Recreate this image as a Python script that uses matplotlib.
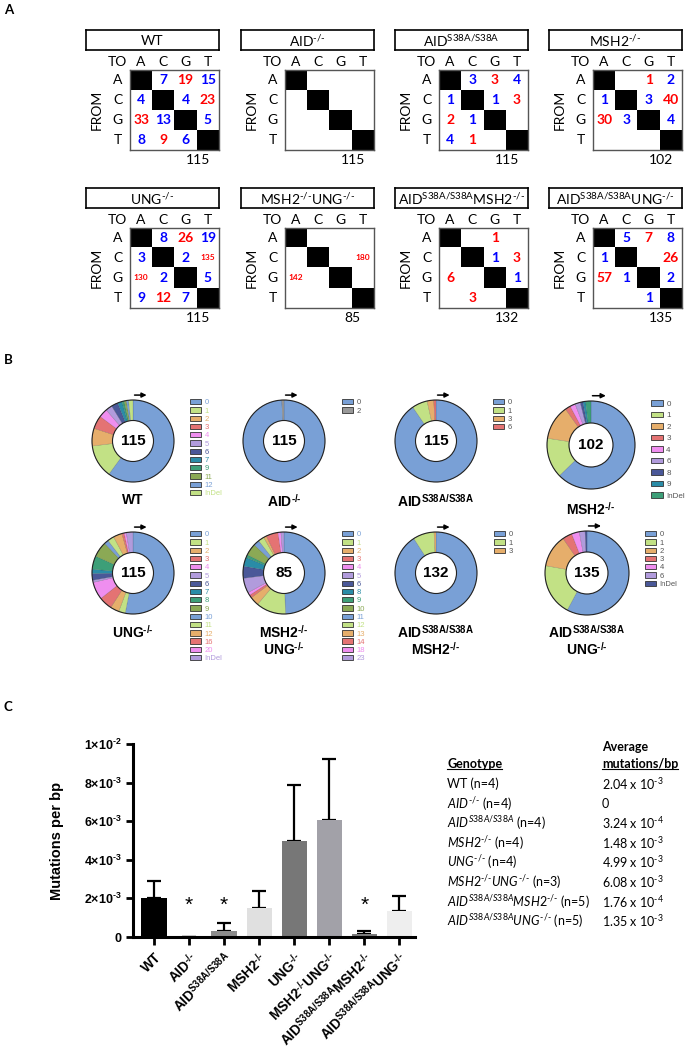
import numpy as np
import matplotlib
matplotlib.use('Agg')
import matplotlib.pyplot as plt
from matplotlib.patches import Patch, Circle

plt.rcParams['font.family'] = ['Lato', 'DejaVu Sans']
plt.rcParams['mathtext.fontset'] = 'custom'
plt.rcParams['mathtext.rm'] = 'Lato'
plt.rcParams['mathtext.it'] = 'Lato:italic'
plt.rcParams['mathtext.bf'] = 'Liberation Sans:bold'

W, H = 686, 1050
HY = '\u2010'  # short hyphen, avoids the wide mathtext minus
KO = HY + '/' + HY

# ---------------- Panel A: substitution matrices (row = FROM, col = TO, 0 = blank)
bases = ['A', 'C', 'G', 'T']
matrix_titles = ['WT', 'AID$^{' + KO + '}$', 'AID$^{\\mathrm{S38A/S38A}}$', 'MSH2$^{' + KO + '}$',
                 'UNG$^{' + KO + '}$', 'MSH2$^{' + KO + '}$UNG$^{' + KO + '}$',
                 'AID$^{\\mathrm{S38A/S38A}}$MSH2$^{' + KO + '}$', 'AID$^{\\mathrm{S38A/S38A}}$UNG$^{' + KO + '}$']
m_wt = [[0, 7, 19, 15], [4, 0, 4, 23], [33, 13, 0, 5], [8, 9, 6, 0]]
m_aid = [[0, 0, 0, 0], [0, 0, 0, 0], [0, 0, 0, 0], [0, 0, 0, 0]]
m_s38a = [[0, 3, 3, 4], [1, 0, 1, 3], [2, 1, 0, 0], [4, 1, 0, 0]]
m_msh2 = [[0, 0, 1, 2], [1, 0, 3, 40], [30, 3, 0, 4], [0, 0, 0, 0]]
m_ung = [[0, 8, 26, 19], [3, 0, 2, 135], [130, 2, 0, 5], [9, 12, 7, 0]]
m_msh2ung = [[0, 0, 0, 0], [0, 0, 0, 180], [142, 0, 0, 0], [0, 0, 0, 0]]
m_s38a_msh2 = [[0, 0, 1, 0], [0, 0, 1, 3], [6, 0, 0, 1], [0, 3, 0, 0]]
m_s38a_ung = [[0, 5, 7, 8], [1, 0, 0, 26], [57, 1, 0, 2], [0, 0, 1, 0]]
matrices = [m_wt, m_aid, m_s38a, m_msh2, m_ung, m_msh2ung, m_s38a_msh2, m_s38a_ung]
matrix_totals = [115, 115, 115, 102, 115, 85, 132, 135]

# ---------------- Panel B: clones by number of mutations
BKO = '\\mathbf{' + KO + '}'
BS38 = '\\mathbf{S38A/S38A}'
pie_titles = [['WT'], ['AID$^{' + BKO + '}$'], ['AID$^{' + BS38 + '}$'], ['MSH2$^{' + BKO + '}$'],
              ['UNG$^{' + BKO + '}$'], ['MSH2$^{' + BKO + '}$', 'UNG$^{' + BKO + '}$'],
              ['AID$^{' + BS38 + '}$', 'MSH2$^{' + BKO + '}$'],
              ['AID$^{' + BS38 + '}$', 'UNG$^{' + BKO + '}$']]
lab_wt = ['0', '1', '2', '3', '4', '5', '6', '7', '9', '11', '12', 'InDel']
cnt_wt = [69, 15, 8, 6, 4, 3, 3, 2, 1, 1, 1, 2]
lab_aid = ['0', '2']
cnt_aid = [114, 1]
lab_s38a = ['0', '1', '3', '6']
cnt_s38a = [104, 7, 3, 1]
lab_msh2 = ['0', '1', '2', '3', '4', '6', '8', '9', 'InDel']
cnt_msh2 = [64, 15, 13, 2, 2, 2, 1, 1, 2]
lab_ung = ['0', '1', '2', '3', '4', '5', '6', '7', '8', '9', '10', '11', '12', '16', '20', 'InDel']
cnt_ung = [61, 3, 4, 6, 8, 1, 3, 2, 6, 7, 2, 3, 4, 1, 1, 3]
lab_msh2ung = ['0', '1', '2', '3', '4', '5', '6', '8', '9', '10', '11', '12', '13', '14', '18', '23']
cnt_msh2ung = [42, 10, 3, 1, 1, 5, 4, 3, 1, 4, 2, 2, 1, 4, 1, 1]
lab_s38a_msh2 = ['0', '1', '3']
cnt_s38a_msh2 = [120, 11, 1]
lab_s38a_ung = ['0', '1', '2', '3', '4', '6', 'InDel']
cnt_s38a_ung = [78, 27, 17, 5, 4, 3, 1]
pie_labels = [lab_wt, lab_aid, lab_s38a, lab_msh2, lab_ung, lab_msh2ung, lab_s38a_msh2, lab_s38a_ung]
pie_counts = [cnt_wt, cnt_aid, cnt_s38a, cnt_msh2, cnt_ung, cnt_msh2ung, cnt_s38a_msh2, cnt_s38a_ung]

# ---------------- Panel C: mutation frequency
bar_labels = ['WT', 'AID$^{' + BKO + '}$', 'AID$^{' + BS38 + '}$', 'MSH2$^{' + BKO + '}$',
              'UNG$^{' + BKO + '}$', 'MSH2$^{' + BKO + '}$UNG$^{' + BKO + '}$',
              'AID$^{' + BS38 + '}$MSH2$^{' + BKO + '}$', 'AID$^{' + BS38 + '}$UNG$^{' + BKO + '}$']
bar_means = [2.04e-3, 0, 3.24e-4, 1.48e-3, 4.99e-3, 6.08e-3, 1.76e-4, 1.35e-3]
bar_err = [0.86e-3, 0, 0.38e-3, 0.88e-3, 2.86e-3, 3.14e-3, 0.12e-3, 0.77e-3]
significant = [False, True, True, False, False, False, True, False]
ytick_labels = ['0', '2×10$^{\\mathbf{' + HY + '3}}$', '4×10$^{\\mathbf{' + HY + '3}}$',
                '6×10$^{\\mathbf{' + HY + '3}}$', '8×10$^{\\mathbf{' + HY + '3}}$',
                '1×10$^{\\mathbf{' + HY + '2}}$']

IKO = '\\mathit{' + KO + '}'
IS38 = '\\mathit{S38A/S38A}'
table_genotypes = ['WT (n=4)', '$\\mathit{AID}^{' + IKO + '}$ (n=4)',
                   '$\\mathit{AID}^{' + IS38 + '}$ (n=4)', '$\\mathit{MSH2}^{' + IKO + '}$ (n=4)',
                   '$\\mathit{UNG}^{' + IKO + '}$ (n=4)',
                   '$\\mathit{MSH2}^{' + IKO + '}\\mathit{UNG}^{' + IKO + '}$ (n=3)',
                   '$\\mathit{AID}^{' + IS38 + '}\\mathit{MSH2}^{' + IKO + '}$ (n=5)',
                   '$\\mathit{AID}^{' + IS38 + '}\\mathit{UNG}^{' + IKO + '}$ (n=5)']
table_values = ['2.04 x 10$^{' + HY + '3}$', '0', '3.24 x 10$^{' + HY + '4}$', '1.48 x 10$^{' + HY + '3}$',
                '4.99 x 10$^{' + HY + '3}$', '6.08 x 10$^{' + HY + '3}$', '1.76 x 10$^{' + HY + '4}$',
                '1.35 x 10$^{' + HY + '3}$']

fig = plt.figure(figsize=(6.86, 10.5), dpi=100)


def px_axes(x, y, w, h):
    return fig.add_axes([x / W, 1 - (y + h) / H, w / W, h / H])


ov = fig.add_axes([0, 0, 1, 1])
ov.set_xlim(0, W)
ov.set_ylim(H, 0)
ov.axis('off')

for letter, y in zip('ABC', [10, 360, 707]):
    ov.text(4, y, letter, fontsize=9.5, fontweight='bold', va='center')

# ---- Panel A
transitions = {('A', 'G'), ('G', 'A'), ('C', 'T'), ('T', 'C')}
col_x = [86, 241, 395, 549]
row_y = [30, 188]
for k, (title, mat, total) in enumerate(zip(matrix_titles, matrices, matrix_totals)):
    ox, oy = col_x[k % 4], row_y[k // 4]
    box = px_axes(ox, oy, 133, 20)
    box.set_xticks([])
    box.set_yticks([])
    for s in box.spines.values():
        s.set_linewidth(1.2)
    box.text(0.5, 0.45, title, ha='center', va='center', fontsize=10, transform=box.transAxes)

    ax = px_axes(ox + 44, oy + 40, 89, 80)
    ax.imshow(np.eye(4), cmap='gray_r', vmin=0, vmax=1, aspect='auto')
    ax.set_xlim(-0.5, 3.5)
    ax.set_ylim(3.5, -0.5)
    ax.set_xticks([])
    ax.set_yticks([])
    for s in ax.spines.values():
        s.set_color('#555555')
        s.set_linewidth(1)
    for j, b in enumerate(bases):
        ax.text(j, -0.9, b, ha='center', va='center', fontsize=10)
        ax.text(-1.05, j, b, ha='center', va='center', fontsize=10)
    ax.text(-1.05, -0.9, 'TO', ha='center', va='center', fontsize=10)
    ax.text(-2.0, 1.5, 'FROM', ha='center', va='center', fontsize=10, rotation=90)
    for i in range(4):
        for j in range(4):
            v = mat[i][j]
            if v:
                c = 'red' if (bases[i], bases[j]) in transitions else 'blue'
                ax.text(j, i, str(v), ha='center', va='center', color=c,
                        fontsize=6 if v >= 100 else 10, fontweight='bold')
    ax.text(2.55, 4.0, str(total), ha='center', va='center', fontsize=10)

# ---- Panel B
palette = ['#79a0d6', '#c2e185', '#e6ae6b', '#e47373', '#ef8eef', '#b19bdc',
           '#4a5898', '#2a8ca7', '#3d9f78', '#8ba955']
centers = [(133, 441), (284, 441), (436, 441), (591, 445),
           (133, 573), (284, 573), (436, 573), (587, 573)]
radii = [41, 41, 41, 44, 41, 41, 41, 42]
leg_pos = [(190, 399), (342, 399), (493, 399), (651, 400),
           (190, 531), (342, 531), (494, 531), (645, 531)]
title_y = [500, 502, 502, 510, 633, 633, 633, 633]
colored_text = [True, False, False, False, True, True, False, False]
for k in range(8):
    cx, cy = centers[k]
    R = radii[k]
    cols = [palette[i % 10] for i in range(len(pie_counts[k]))]
    if k == 1:
        cols[1] = '#999999'
    ax = px_axes(cx - 1.3 * R, cy - 1.3 * R, 2.6 * R, 2.6 * R)
    wedges, _ = ax.pie(pie_counts[k], colors=cols, startangle=90, counterclock=False,
                       radius=1, wedgeprops=dict(width=0.5, edgecolor=(0, 0, 0, 0.25), linewidth=0.3))
    ax.set_xlim(-1.3, 1.3)
    ax.set_ylim(-1.3, 1.3)
    ax.add_patch(Circle((0, 0), 1, fill=False, ec='#222222', lw=0.8))
    ax.add_patch(Circle((0, 0), 0.5, fill=False, ec='#222222', lw=0.8))
    ax.annotate('', xy=(0.4, 1.12), xytext=(-0.03, 1.12),
                arrowprops=dict(arrowstyle='-|>', color='black', lw=1.1, mutation_scale=7))
    ax.text(0, 0, str(sum(pie_counts[k])), ha='center', va='center', fontsize=11,
            fontweight='bold', family='Liberation Sans')
    handles = [Patch(facecolor=c, edgecolor='#333333', linewidth=0.6) for c in cols]
    big = (k == 3)
    lx, ly = leg_pos[k]
    fs = 5.8 if big else 5.5
    leg = ax.legend(handles, pie_labels[k], loc='upper left',
                    bbox_to_anchor=(lx / W, 1 - ly / H), bbox_transform=fig.transFigure,
                    frameon=False, borderpad=0, borderaxespad=0,
                    handlelength=1.5 if big else 1.4, handleheight=0.7,
                    handletextpad=0.4 if big else 0.5,
                    labelspacing=0.48 if big else 0.12,
                    prop={'family': 'Liberation Sans', 'size': fs})
    for t, c in zip(leg.get_texts(), cols):
        t.set_color(c if colored_text[k] else '#555555')
    for n, line in enumerate(pie_titles[k]):
        ov.text(cx, title_y[k] + 17 * n, line, ha='center', va='center', fontsize=10,
                fontweight='bold', family='Liberation Sans')

# ---- Panel C
bar_colors = ['#000000', '#ffffff', '#8c8c8c', '#e0e0e0', '#777777', '#a2a1a8', '#7c7c7c', '#eeeeee']
bx = np.arange(len(bar_means))
ax = px_axes(133, 744, 282, 193)
ax.bar(bx, bar_means, width=0.72, color=bar_colors, zorder=2)
ax.errorbar(bx, bar_means, yerr=[np.zeros(len(bar_err)), bar_err], fmt='none', ecolor='black',
            elinewidth=1.6, capsize=5, capthick=1.6, zorder=1)
for i, sig in enumerate(significant):
    if sig:
        ax.text(i, 0.00165, '*', ha='center', va='center', fontsize=15, family='Liberation Sans')
ax.set_xlim(-0.6, 7.45)
ax.set_ylim(0, 0.01)
ax.set_yticks([0, 0.002, 0.004, 0.006, 0.008, 0.01])
ax.set_yticklabels(ytick_labels, fontweight='bold', fontsize=9, family='Liberation Sans')
ax.set_xticks(bx)
ax.set_xticklabels(bar_labels, rotation=45, ha='right', rotation_mode='anchor',
                   fontweight='bold', fontsize=9.8, family='Liberation Sans')
ax.tick_params(axis='both', width=2, length=5)
ax.tick_params(axis='x', length=6)
for s in ['top', 'right']:
    ax.spines[s].set_visible(False)
for s in ['left', 'bottom']:
    ax.spines[s].set_linewidth(2.2)
ax.set_ylabel('Mutations per bp', fontweight='bold', fontsize=10.5, family='Liberation Sans', labelpad=14)

# table
tx1, tx2 = 447, 602
tfs = 9
ov.text(tx2, 747, 'Average', fontsize=tfs, fontweight='bold', va='center')
t_geno = ov.text(tx1, 764, 'Genotype', fontsize=tfs, fontweight='bold', va='center')
t_mut = ov.text(tx2, 764, 'mutations/bp', fontsize=tfs, fontweight='bold', va='center')
for i, (g, v) in enumerate(zip(table_genotypes, table_values)):
    y = 784 + 19.6 * i
    ov.text(tx1, y, g, fontsize=tfs, va='center')
    ov.text(tx2, y, v, fontsize=tfs, va='center')

fig.canvas.draw()
r = fig.canvas.get_renderer()
for t in (t_geno, t_mut):
    bb = t.get_window_extent(r).transformed(ov.transData.inverted())
    yb = max(bb.y0, bb.y1) - 1.5
    ov.plot([bb.x0, bb.x1], [yb, yb], color='black', lw=0.8)

fig.savefig('out.png', dpi=100)
